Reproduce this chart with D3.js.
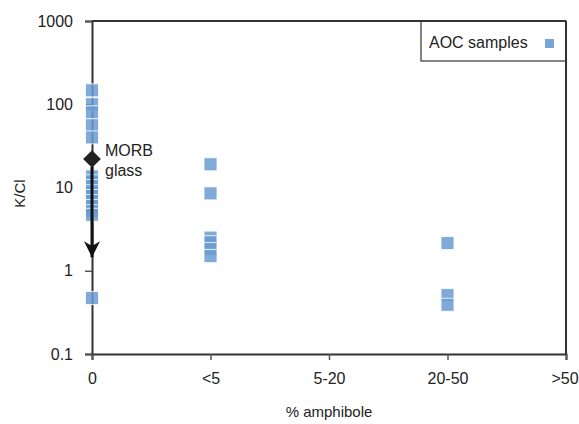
<!DOCTYPE html>
<html>
<head>
<meta charset="utf-8">
<script src="https://cdn.jsdelivr.net/npm/d3@7"></script>
<style>
  body { margin: 0; background: #fff; }
  text { font-family: "Liberation Sans", Arial, sans-serif; fill: #222; }
</style>
</head>
<body>
<div id="chart"></div>
<script>
// categories on x axis
var categories = ["0", "<5", "5-20", "20-50", ">50"];

// K/Cl values of AOC samples, grouped by amphibole class
var amphClass = ["0", "0", "0", "0", "0",
                 "0", "0", "0", "0", "0", "0", "0", "0", "0",
                 "0",
                 "<5", "<5", "<5", "<5", "<5", "<5",
                 "20-50", "20-50", "20-50"];
var kcl = [147, 100, 80, 56, 40,
           13.6, 11.9, 10.4, 9.0, 7.9, 6.9, 6.0, 5.2, 4.7,
           0.47,
           19, 8.5, 2.5, 2.2, 1.82, 1.5,
           2.15, 0.51, 0.39];

// MORB glass and where the arrow points to
var morbValue = 22;
var arrowEnd = 1.45;

var yTicks = [0.1, 1, 10, 100, 1000];

var margin = { top: 21, right: 13, bottom: 70, left: 92 },
    width = 579 - margin.left - margin.right,
    height = 424 - margin.top - margin.bottom;

var svg = d3.select("#chart")
  .append("svg")
  .attr("width", 579)
  .attr("height", 424);

var g = svg.append("g")
  .attr("transform", "translate(" + margin.left + "," + margin.top + ")");

var x = d3.scalePoint().domain(categories).range([0, width]);
var y = d3.scaleLog().domain([0.1, 1000]).range([height, 0]);

// frame (top and right)
g.append("line").attr("x1", 0).attr("x2", width).attr("y1", 0).attr("y2", 0)
  .attr("stroke", "#333").attr("stroke-width", 2);
g.append("line").attr("x1", width).attr("x2", width).attr("y1", 0).attr("y2", height)
  .attr("stroke", "#333").attr("stroke-width", 2);

// y axis
var yAxis = g.append("g")
  .call(d3.axisLeft(y).tickValues(yTicks).tickSize(7).tickPadding(12)
    .tickFormat(function(d) { return d3.format("~g")(d); }));
// x axis
var xAxis = g.append("g")
  .attr("transform", "translate(0," + height + ")")
  .call(d3.axisBottom(x).tickSize(6).tickPadding(13));

[yAxis, xAxis].forEach(function(ax) {
  ax.select(".domain").attr("stroke", "#333").attr("stroke-width", 2);
  ax.selectAll(".tick line").attr("stroke", "#555").attr("stroke-width", 1.5);
  ax.selectAll(".tick text").style("font-size", "16px").attr("fill", "#222")
    .style("font-family", "Liberation Sans, Arial, sans-serif");
});
// keep the last label inside the window
xAxis.selectAll(".tick text").filter(function(d) { return d === ">50"; })
  .attr("dx", -1.5);

// sample squares
var size = 13;
g.selectAll(".pt")
  .data(kcl)
  .enter().append("rect")
  .attr("class", "pt")
  .attr("x", function(d, i) { return x(amphClass[i]) - size / 2; })
  .attr("y", function(d) { return y(d) - size / 2; })
  .attr("width", size)
  .attr("height", size)
  .attr("fill", "#6a9bd1")
  .attr("fill-opacity", 0.85)
  .attr("stroke", "#fff")
  .attr("stroke-opacity", 0.8)
  .attr("stroke-width", 1);

// arrow from MORB glass
var defs = svg.append("defs");
defs.append("marker")
  .attr("id", "head")
  .attr("viewBox", "0 0 10 10")
  .attr("refX", 10).attr("refY", 5)
  .attr("markerUnits", "userSpaceOnUse")
  .attr("markerWidth", 16).attr("markerHeight", 16)
  .attr("orient", "auto")
  .append("path").attr("d", "M0,0 L10,5 L0,10 L3,5 Z").attr("fill", "#111");

g.append("line")
  .attr("x1", x("0")).attr("x2", x("0"))
  .attr("y1", y(morbValue) + 8).attr("y2", y(arrowEnd))
  .attr("stroke", "#111").attr("stroke-width", 3)
  .attr("marker-end", "url(#head)");

// MORB diamond
g.append("path")
  .attr("d", d3.symbol().type(d3.symbolDiamond2).size(200)())
  .attr("transform", "translate(" + x("0") + "," + y(morbValue) + ")")
  .attr("fill", "#222");

g.append("text").attr("x", x("0") + 13).attr("y", y(morbValue) - 3)
  .style("font-size", "16px").text("MORB");
g.append("text").attr("x", x("0") + 13).attr("y", y(morbValue) + 17)
  .style("font-size", "16px").text("glass");

// legend
var lg = g.append("g").attr("transform", "translate(" + (width - 145) + ",0)");
lg.append("rect").attr("width", 145).attr("height", 40)
  .attr("fill", "#fff").attr("stroke", "#333").attr("stroke-width", 1.2);
lg.append("line").attr("x1", 0).attr("x2", 145).attr("y1", 0).attr("y2", 0)
  .attr("stroke", "#333").attr("stroke-width", 2);
lg.append("line").attr("x1", 145).attr("x2", 145).attr("y1", 0).attr("y2", 40)
  .attr("stroke", "#333").attr("stroke-width", 2);
lg.append("text").attr("x", 8).attr("y", 27).style("font-size", "16px").text("AOC samples");
lg.append("rect").attr("x", 124).attr("y", 18).attr("width", 9).attr("height", 9)
  .attr("fill", "#6a9bd1").attr("fill-opacity", 0.9);

// axis titles
svg.append("text")
  .attr("transform", "translate(25," + (margin.top + height / 2 + 6) + ") rotate(-90)")
  .attr("text-anchor", "middle")
  .style("font-size", "15px")
  .text("K/Cl");
svg.append("text")
  .attr("x", margin.left + width / 2)
  .attr("y", 417)
  .attr("text-anchor", "middle")
  .style("font-size", "15px")
  .text("% amphibole");
</script>
</body>
</html>
